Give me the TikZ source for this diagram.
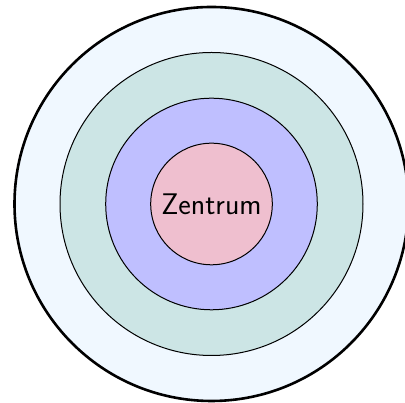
\documentclass[tikz,border=0pt]{standalone}
\usepackage{tikz}
\definecolor{outerfill}{RGB}{240,248,255}
\tikzset{
  ring/.style={circle, draw=black, line width=1pt, inner sep=0pt},
}
\begin{document}
\begin{tikzpicture}[x=1pt,y=1pt]
\useasboundingbox (0,0) rectangle (405,403);
\coordinate (c) at (211.5,199);
\node[ring, line width=2.6pt, fill=outerfill, minimum size=394pt] (outer) at (c) {};
\node[ring, fill=teal!20, minimum size=303pt] (ring3) at (c) {};
\node[ring, fill=blue!25, minimum size=211.6pt] (ring2) at (c) {};
\node[ring, fill=purple!25, minimum size=121.6pt, font=\fontsize{29.8}{36}\selectfont\sffamily] (zentrum) at (c) {Zentrum};
\end{tikzpicture}
\end{document}
